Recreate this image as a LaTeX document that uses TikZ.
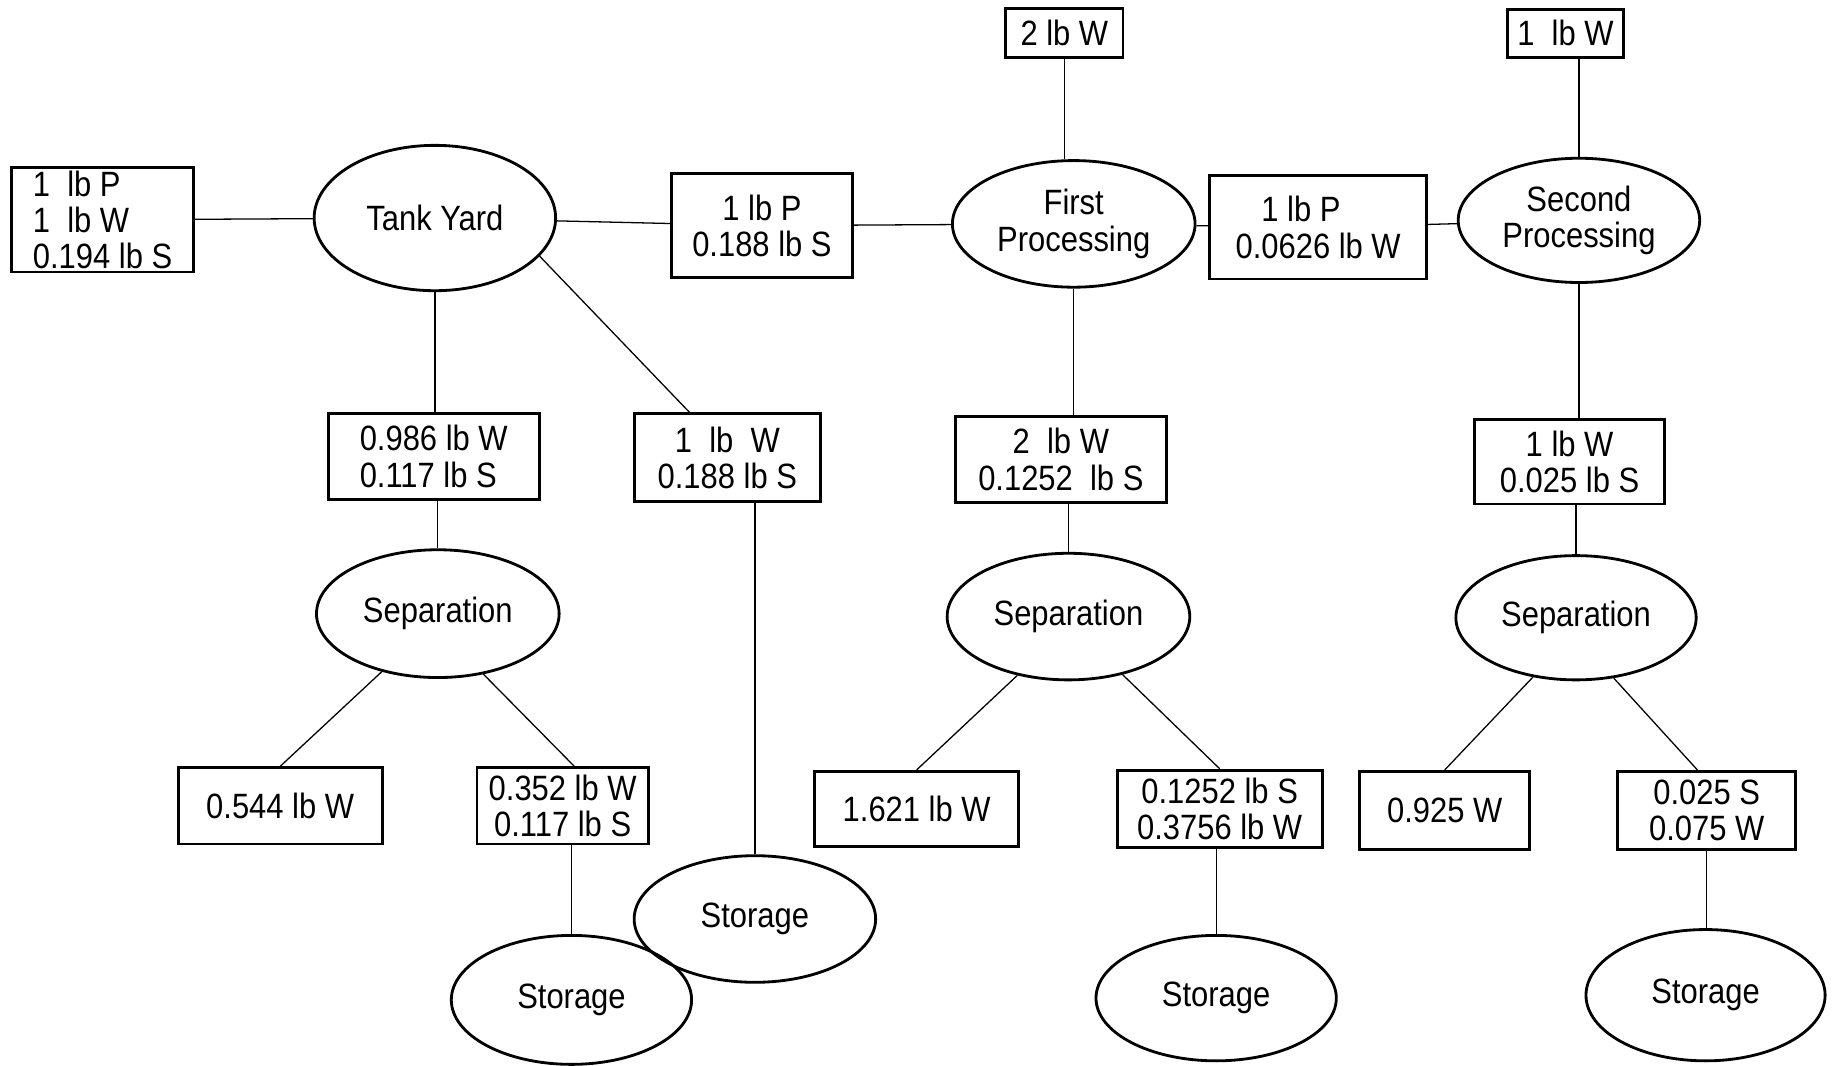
\documentclass[tikz,border=0pt]{standalone}
\usepackage{fontspec}
\setmainfont{Liberation Sans}[FakeStretch=0.88]
\usetikzlibrary{shapes.geometric,calc}
\begin{document}
\begin{tikzpicture}[x=0.5pt,y=-0.5pt,
  every node/.style={font=\fontsize{15}{15.5}\selectfont, inner sep=0pt},
  bx/.style={draw, line width=1.2pt, rectangle, align=center},
  el/.style={draw, line width=1.2pt, ellipse, align=center},
  cn/.style={line width=0.55pt}]
\useasboundingbox (0,0) rectangle (1568,909);
% top row
\node[bx, minimum width=77.5pt, minimum height=44.5pt, align=left] (b0) at (87.5,187.5) {1\ \ lb P\\1\ \ lb W\\0.194 lb S};
\node[el, minimum width=103pt, minimum height=62pt] (ty) at (371,186) {Tank Yard};
\node[bx, minimum width=77pt, minimum height=44.5pt] (b1) at (650,192.5) {1 lb P\\0.188 lb S};
\node[el, minimum width=103.5pt, minimum height=54pt] (fp) at (916,191) {First\\Processing};
\node[bx, minimum width=50pt, minimum height=21pt] (b2w) at (908,28) {2 lb W};
\node[bx, minimum width=92.5pt, minimum height=44pt, align=left] (b3) at (1124.5,194) {\ \ \ 1 lb P\\0.0626 lb W};
\node[el, minimum width=103pt, minimum height=53pt] (sp) at (1347,188) {Second\\Processing};
\node[bx, minimum width=49.5pt, minimum height=20.5pt] (b1w) at (1335.5,28.5) {1\ \ lb W};
% tank yard branch
\node[bx, minimum width=90pt, minimum height=36.5pt, align=left] (b4) at (370,389.5) {0.986 lb W\\0.117 lb S};
\node[bx, minimum width=79.5pt, minimum height=37.5pt] (b5) at (620.5,390.5) {1\ \ lb\ \ W\\0.188 lb S};
\node[el, minimum width=103.5pt, minimum height=54.5pt] (sep1) at (373.5,523.5) {Separation};
\node[bx, minimum width=87pt, minimum height=32.5pt] (b6) at (239,687.5) {0.544 lb W};
\node[bx, minimum width=73pt, minimum height=32.5pt] (b7) at (480,687.5) {0.352 lb W\\0.117 lb S};
\node[el, minimum width=102.5pt, minimum height=55pt] (st1) at (487.5,853) {Storage};
\node[el, minimum width=103pt, minimum height=54pt] (st2) at (644,784) {Storage};
% first processing branch
\node[bx, minimum width=90pt, minimum height=37pt] (b8) at (905,392) {2\ \ lb W\\0.1252\ \ lb S};
\node[el, minimum width=103.5pt, minimum height=54pt] (sep2) at (911.5,526) {Separation};
\node[bx, minimum width=87pt, minimum height=32pt] (b9) at (782,690) {1.621 lb W};
\node[bx, minimum width=87.5pt, minimum height=33pt] (b10) at (1040.5,690) {0.1252 lb S\\0.3756 lb W};
\node[el, minimum width=102.5pt, minimum height=53.5pt] (st3) at (1037.5,851.5) {Storage};
% second processing branch
\node[bx, minimum width=81pt, minimum height=36pt] (b11) at (1339,394) {1 lb W\\0.025 lb S};
\node[el, minimum width=102.5pt, minimum height=53pt] (sep3) at (1344.5,527) {Separation};
\node[bx, minimum width=72.5pt, minimum height=33.5pt] (b12) at (1232.5,691.5) {0.925 W};
\node[bx, minimum width=76pt, minimum height=33.5pt] (b13) at (1456,691.5) {0.025 S\\0.075 W};
\node[el, minimum width=102pt, minimum height=56pt] (st4) at (1455,849) {Storage};
% connectors
\draw[cn] (b0) -- (ty);
\draw[cn] (ty) -- (b1);
\draw[cn] (b1) -- (fp);
\draw[cn] (fp) -- (b3);
\draw[cn] (b3) -- (sp);
\draw[cn] (b2w.south) -- (b2w.south |- fp.north);
\draw[cn] (sp.north) -- (sp.north |- b1w.south);
\draw[cn] (ty.south) -- (ty.south |- b4.north);
\draw[cn] (sep1.north) -- (sep1.north |- b4.south);
\draw[cn] (ty.-20) -- ($(b5.north west)!0.3!(b5.north east)$);
\draw[cn] (st2.north) -- (st2.north |- b5.south);
\draw[cn] (sep1.-134) -- (b6.north);
\draw[cn] (sep1.-53) -- ([xshift=5pt]b7.north);
\draw[cn] (st1.north) -- (st1.north |- b7.south);
\draw[cn] (fp.south) -- (fp.south |- b8.north);
\draw[cn] (sep2.north) -- (sep2.north |- b8.south);
\draw[cn] (sep2.-131) -- (b9.north);
\draw[cn] (sep2.-47) -- (b10.north);
\draw[cn] (st3.north) -- (st3.north |- b10.south);
\draw[cn] (sp.south) -- (sp.south |- b11.north);
\draw[cn] (sep3.north) -- (sep3.north |- b11.south);
\draw[cn] (sep3.-126) -- (b12.north);
\draw[cn] (sep3.-58) -- ([xshift=-4pt]b13.north);
\draw[cn] (b13.south) -- (b13.south |- st4.north);
\end{tikzpicture}
\end{document}
